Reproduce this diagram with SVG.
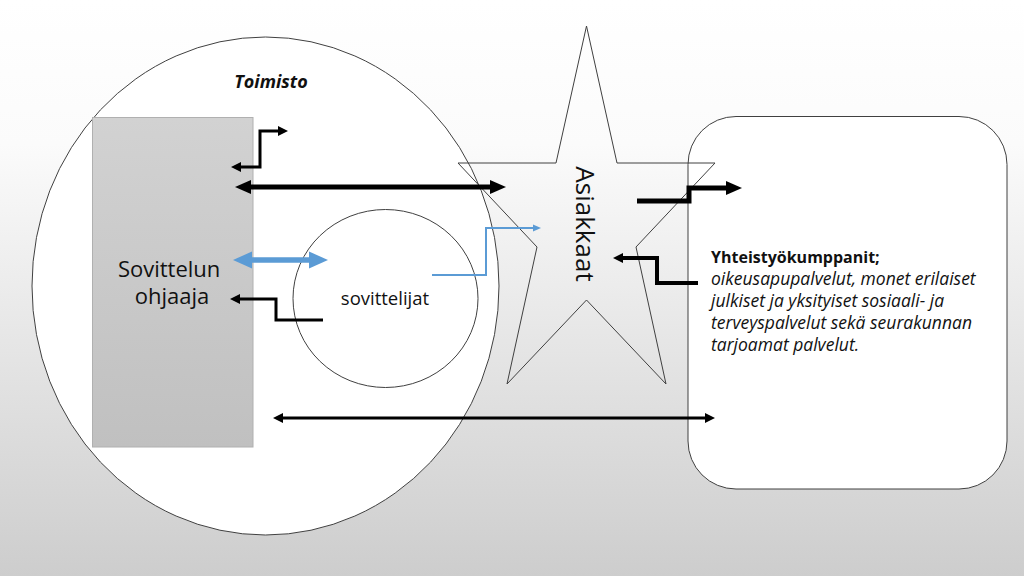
<svg xmlns="http://www.w3.org/2000/svg" width="1024" height="576" viewBox="0 0 1024 576">
  <defs>
    <linearGradient id="bg" x1="0" y1="0" x2="0" y2="1">
      <stop offset="0" stop-color="#ffffff"/>
      <stop offset="0.25" stop-color="#fbfbfb"/>
      <stop offset="1" stop-color="#cdcdcd"/>
    </linearGradient>
    <linearGradient id="boxfill" x1="0" y1="0" x2="0" y2="1">
      <stop offset="0" stop-color="#d2d2d2"/>
      <stop offset="1" stop-color="#c0c0c0"/>
    </linearGradient>
    <marker id="hs" viewBox="0 -5 10 10" markerWidth="10" markerHeight="10" refX="0" refY="0" markerUnits="userSpaceOnUse" orient="auto-start-reverse" overflow="visible">
      <path d="M0,-5 L10,0 L0,5 z" fill="#000"/>
    </marker>
    <marker id="hl" viewBox="0 -7 16 14" markerWidth="16" markerHeight="14" refX="0" refY="0" markerUnits="userSpaceOnUse" orient="auto-start-reverse" overflow="visible">
      <path d="M0,-7 L16,0 L0,7 z" fill="#000"/>
    </marker>
    <marker id="hbl" viewBox="0 -8.5 19 17" markerWidth="19" markerHeight="17" refX="0" refY="0" markerUnits="userSpaceOnUse" orient="auto-start-reverse" overflow="visible">
      <path d="M0,-8.5 L19,0 L0,8.5 z" fill="#5b9bd5"/>
    </marker>
    <marker id="hbs" viewBox="0 -3.5 8 7" markerWidth="8" markerHeight="7" refX="0" refY="0" markerUnits="userSpaceOnUse" orient="auto-start-reverse" overflow="visible">
      <path d="M0,-3.5 L8,0 L0,3.5 z" fill="#5b9bd5"/>
    </marker>
  </defs>
  <style>
    .shape { stroke: #404040; stroke-width: 1; }
    .lbl { font-family: "Open Sans", "Liberation Sans", sans-serif; fill: #111; }
    .blk { fill: none; stroke: #000; stroke-linejoin: miter; }
    .blue { fill: none; stroke: #5b9bd5; }
  </style>

  <rect x="0" y="0" width="1024" height="576" fill="url(#bg)"/>

  <g id="toimisto">
    <ellipse cx="265.5" cy="286" rx="233.5" ry="249" fill="#ffffff" class="shape"/>
    <text x="271" y="88" class="lbl" font-size="18" font-weight="bold" font-style="italic" text-anchor="middle">Toimisto</text>
  </g>

  <g id="sovittelun-ohjaaja">
    <rect x="92.5" y="117.5" width="160.5" height="329.5" fill="url(#boxfill)" stroke="#b0b0b0" stroke-width="1"/>
    <text class="lbl" font-size="22" text-anchor="middle">
      <tspan x="172" y="277">Sovittelun</tspan>
      <tspan x="172" y="304">ohjaaja</tspan>
    </text>
  </g>

  <g id="sovittelijat">
    <ellipse cx="385.5" cy="298.5" rx="92.5" ry="89" fill="#ffffff" class="shape"/>
    <text x="385" y="305" class="lbl" font-size="18.5" text-anchor="middle">sovittelijat</text>
  </g>

  <g id="yhteistyokumppanit">
    <rect x="688" y="116.5" width="319" height="372.5" rx="48" ry="48" fill="#ffffff" class="shape"/>
    <text class="lbl" font-size="17.5">
      <tspan x="711" y="263" font-weight="bold" font-size="16">Yhteistyökumppanit;</tspan>
      <tspan x="711" y="285" font-style="italic">oikeusapupalvelut,  monet erilaiset</tspan>
      <tspan x="711" y="307" font-style="italic">julkiset ja yksityiset sosiaali- ja</tspan>
      <tspan x="711" y="329" font-style="italic">terveyspalvelut sekä seurakunnan</tspan>
      <tspan x="711" y="351" font-style="italic">tarjoamat palvelut.</tspan>
    </text>
  </g>

  <g id="asiakkaat">
    <polygon points="586.5,26 617,163 715,163 636,247 666,384 586.5,300 507,384 537,247 458,163 556,163" fill="none" class="shape"/>
    <text x="0" y="0" class="lbl" font-size="26" text-anchor="middle" transform="translate(576,224) rotate(90)">Asiakkaat</text>
  </g>

  <g id="connectors">
    <path d="M241,167 H260 V131 H278" class="blk" stroke-width="3" marker-start="url(#hs)" marker-end="url(#hs)"/>
    <path d="M251,187 H490" class="blk" stroke-width="5" marker-start="url(#hl)" marker-end="url(#hl)"/>
    <path d="M252,260 H309" class="blue" stroke-width="5.5" marker-start="url(#hbl)" marker-end="url(#hbl)"/>
    <path d="M323,320 H276 V299 H240" class="blk" stroke-width="3" marker-end="url(#hs)"/>
    <path d="M432,275 H486 V228 H533" class="blue" stroke-width="2" marker-end="url(#hbs)"/>
    <path d="M637,201 H689 V188 H726" class="blk" stroke-width="5" marker-end="url(#hl)"/>
    <path d="M698,283 H657 V258 H623" class="blk" stroke-width="4" marker-end="url(#hs)"/>
    <path d="M283,418 H705" class="blk" stroke-width="3" marker-start="url(#hs)" marker-end="url(#hs)"/>
  </g>
</svg>
